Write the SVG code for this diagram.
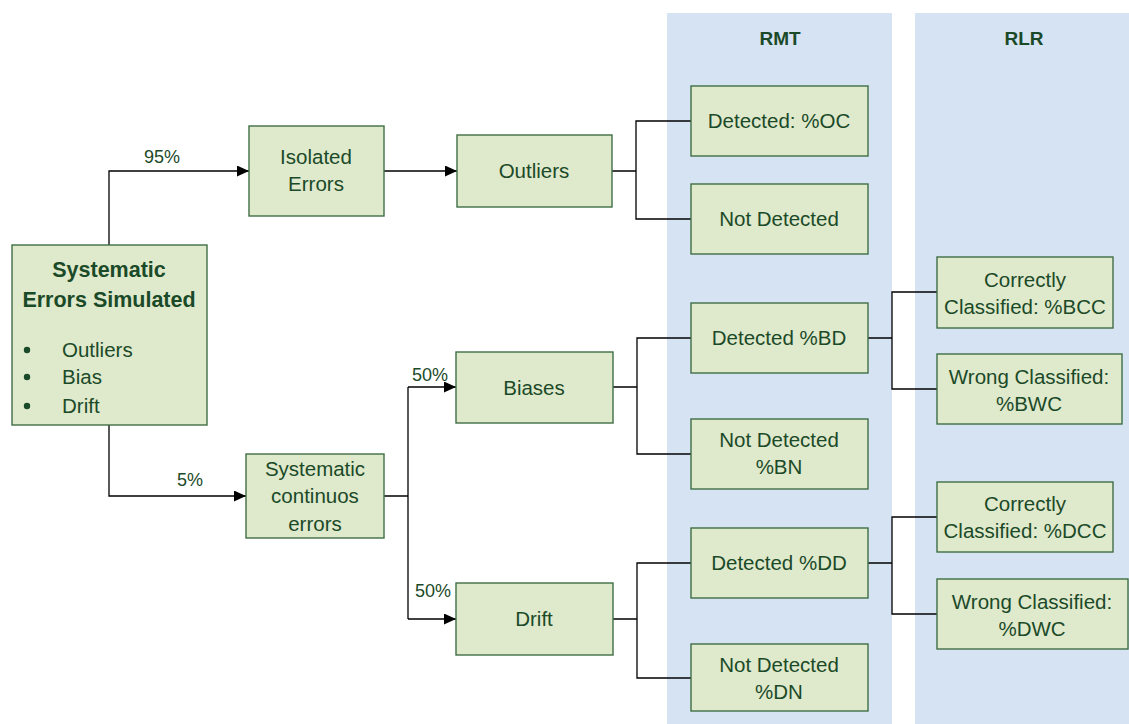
<svg xmlns="http://www.w3.org/2000/svg" width="1129" height="724" viewBox="0 0 1129 724">
<defs>
<style>
.panel{fill:#d6e3f3}
.box{fill:#dfe9cc;stroke:#3f6e45;stroke-width:1.4}
.t{font-family:"Liberation Sans",Arial,sans-serif;font-size:20.5px;fill:#1b4a28;text-anchor:middle}
.p{font-size:18px}
.h{font-weight:bold;font-size:19px}
.ti{font-weight:bold;font-size:21.5px}
.l{text-anchor:start}
.c{fill:none;stroke:#000;stroke-width:1.3}
</style>
<marker id="ar" viewBox="0 0 12 11" refX="12" refY="5.5" markerWidth="12" markerHeight="11" markerUnits="userSpaceOnUse" orient="auto">
<path d="M0,0 L12,5.5 L0,11 z" fill="#000"/>
</marker>
</defs>
<rect width="1129" height="724" fill="#fff"/>
<g id="panel-rmt"><rect class="panel" x="667" y="13" width="225" height="711"/><text class="t h" x="780" y="45">RMT</text></g>
<g id="panel-rlr"><rect class="panel" x="915" y="13" width="214" height="711"/><text class="t h" x="1024" y="45">RLR</text></g>
<g id="connectors">
<path class="c" d="M109,245 V171 H249" marker-end="url(#ar)"/>
<path class="c" d="M109,425 V496 H246" marker-end="url(#ar)"/>
<path class="c" d="M384,171 H457" marker-end="url(#ar)"/>
<path class="c" d="M384,496 H408 M408,387 V619 M408,387 H456" marker-end="url(#ar)"/>
<path class="c" d="M408,619 H456" marker-end="url(#ar)"/>
<path class="c" d="M612,171 H636 M691,121 H636 V219 H691"/>
<path class="c" d="M613,387 H637 M691,338 H637 V454 H691"/>
<path class="c" d="M613,619 H637 M691,563 H637 V678 H691"/>
<path class="c" d="M868,338 H892 M937,292 H892 V389 H937"/>
<path class="c" d="M868,563 H892 M937,517 H892 V614 H937"/>
<text class="t p" x="162" y="163">95%</text>
<text class="t p" x="190" y="486">5%</text>
<text class="t p" x="430" y="381">50%</text>
<text class="t p" x="433" y="597">50%</text>
</g>
<g id="main"><rect class="box" x="12" y="245" width="195" height="180"/>
<text class="t ti" x="109" y="277">Systematic</text>
<text class="t ti" x="109" y="307">Errors Simulated</text>
<circle cx="27" cy="350" r="3.2" fill="#1b4a28"/><circle cx="27" cy="377" r="3.2" fill="#1b4a28"/><circle cx="27" cy="406" r="3.2" fill="#1b4a28"/>
<text class="t l" x="62" y="357">Outliers</text>
<text class="t l" x="62" y="384">Bias</text>
<text class="t l" x="62" y="413">Drift</text></g>
<g id="isolated"><rect class="box" x="249" y="126" width="135" height="90"/><text class="t" x="316" y="164">Isolated</text><text class="t" x="316" y="191">Errors</text></g>
<g id="continuous"><rect class="box" x="246" y="454" width="138" height="84"/><text class="t" x="315" y="476">Systematic</text><text class="t" x="315" y="503">continuos</text><text class="t" x="315" y="531">errors</text></g>
<g id="outliers"><rect class="box" x="457" y="135" width="155" height="72"/><text class="t" x="534" y="178">Outliers</text></g>
<g id="biases"><rect class="box" x="456" y="352" width="157" height="71"/><text class="t" x="534" y="395">Biases</text></g>
<g id="drift"><rect class="box" x="456" y="583" width="157" height="72"/><text class="t" x="534" y="626">Drift</text></g>
<g id="det-oc"><rect class="box" x="691" y="86" width="177" height="70"/><text class="t" x="779" y="128">Detected: %OC</text></g>
<g id="notdet-o"><rect class="box" x="691" y="184" width="177" height="70"/><text class="t" x="779" y="226">Not Detected</text></g>
<g id="det-bd"><rect class="box" x="691" y="303" width="177" height="70"/><text class="t" x="779" y="345">Detected %BD</text></g>
<g id="notdet-bn"><rect class="box" x="691" y="419" width="177" height="70"/><text class="t" x="779" y="447">Not Detected</text><text class="t" x="779" y="474">%BN</text></g>
<g id="det-dd"><rect class="box" x="691" y="528" width="177" height="70"/><text class="t" x="779" y="570">Detected %DD</text></g>
<g id="notdet-dn"><rect class="box" x="691" y="644" width="177" height="67"/><text class="t" x="779" y="672">Not Detected</text><text class="t" x="779" y="699">%DN</text></g>
<g id="bcc"><rect class="box" x="937" y="257" width="176" height="71"/><text class="t" x="1025" y="287">Correctly</text><text class="t" x="1025" y="314">Classified: %BCC</text></g>
<g id="bwc"><rect class="box" x="937" y="354" width="185" height="70"/><text class="t" x="1029" y="384">Wrong Classified:</text><text class="t" x="1029" y="411">%BWC</text></g>
<g id="dcc"><rect class="box" x="937" y="482" width="176" height="70"/><text class="t" x="1025" y="511">Correctly</text><text class="t" x="1025" y="538">Classified: %DCC</text></g>
<g id="dwc"><rect class="box" x="937" y="579" width="191" height="70"/><text class="t" x="1032" y="609">Wrong Classified:</text><text class="t" x="1032" y="636">%DWC</text></g>
</svg>
